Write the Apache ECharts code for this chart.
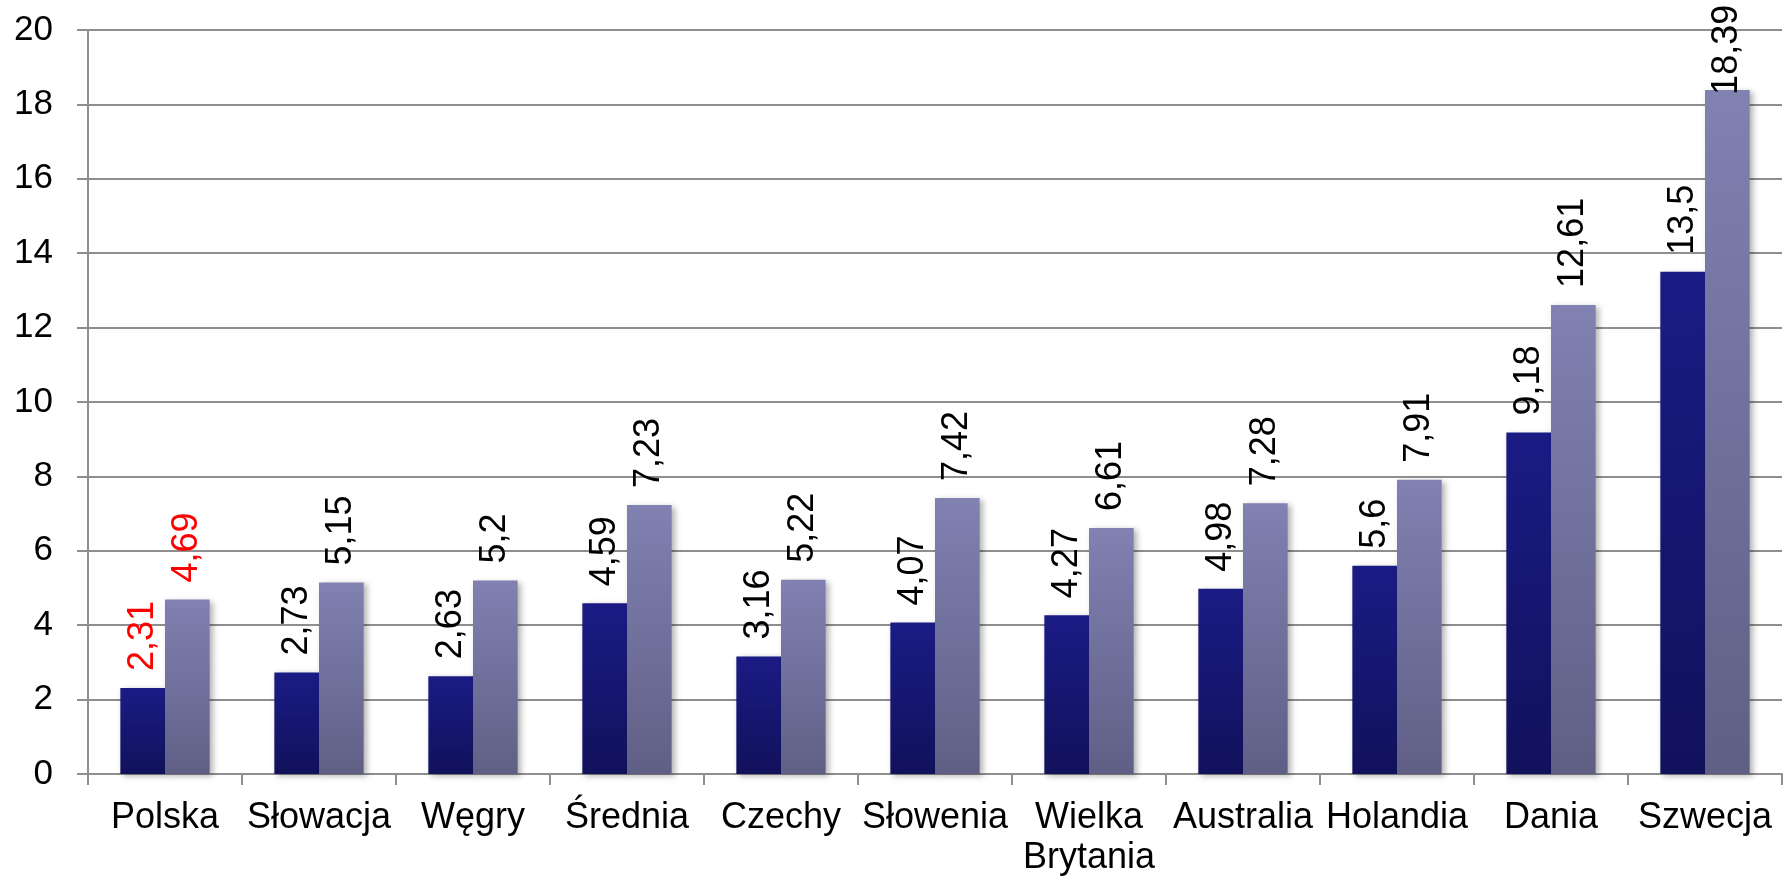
<!DOCTYPE html>
<html>
<head>
  <meta charset="utf-8">
  <script src="https://cdn.jsdelivr.net/npm/echarts@6/dist/echarts.min.js"></script>
  <style>
    html, body { margin: 0; padding: 0; background: #fff; }
    #chart { width: 1787px; height: 879px; }
  </style>
</head>
<body>
  <div id="chart"></div>
  <script>
    const countries = ['Polska', 'Słowacja', 'Węgry', 'Średnia', 'Czechy', 'Słowenia',
      'Wielka\nBrytania', 'Australia', 'Holandia', 'Dania', 'Szwecja']
    const darkValues = [2.31, 2.73, 2.63, 4.59, 3.16, 4.07, 4.27, 4.98, 5.6, 9.18, 13.5]
    const lightValues = [4.69, 5.15, 5.2, 7.23, 5.22, 7.42, 6.61, 7.28, 7.91, 12.61, 18.39]
    const highlighted = ['Polska']

    const font = 'Arial, "Liberation Sans", sans-serif'
    const gridColor = '#8e8e8e'
    const yMax = 20

    function gradient(top, bottom) {
      return {
        type: 'linear',
        x: 0, y: 0, x2: 0, y2: 1,
        colorStops: [
          {offset: 0, color: top},
          {offset: 1, color: bottom}
        ]
      }
    }

    // labels that would run off the top of the chart get pulled down onto the bar, like Excel does
    function buildData(values) {
      return values.map((v, i) => {
        let label = {color: highlighted.includes(countries[i]) ? '#ff0000' : '#000'}
        if (v > yMax - 2) label.distance = -5
        return {value: v, label}
      })
    }

    const valueLabel = {
      show: true,
      position: 'top',
      distance: 17,
      rotate: 90,
      align: 'left',
      verticalAlign: 'middle',
      fontFamily: font,
      fontSize: 36,
      formatter: p => String(p.value).replace('.', ',')
    }

    let chart = echarts.init(document.getElementById('chart'))
    chart.setOption({
      animation: false,
      grid: {left: 88, right: 5, top: 30, bottom: 105},
      xAxis: {
        type: 'category',
        data: countries,
        axisLine: {lineStyle: {color: gridColor, width: 2}},
        axisTick: {show: true, length: 11, lineStyle: {color: gridColor, width: 2}},
        axisLabel: {
          interval: 0,
          margin: 24,
          color: '#000',
          fontFamily: font,
          fontSize: 36,
          lineHeight: 40
        }
      },
      yAxis: {
        type: 'value',
        min: 0,
        max: yMax,
        interval: 2,
        axisLine: {show: true, lineStyle: {color: gridColor, width: 2}},
        axisTick: {show: true, length: 11, lineStyle: {color: gridColor, width: 2}},
        splitLine: {lineStyle: {color: gridColor, width: 2}},
        axisLabel: {
          margin: 35,
          color: '#000',
          fontFamily: font,
          fontSize: 35
        }
      },
      series: [
        {
          type: 'bar',
          data: buildData(darkValues),
          barGap: 0,
          barCategoryGap: '42%',
          itemStyle: {
            color: gradient('#1b1b85', '#11115c'),
            shadowColor: 'rgba(0,0,0,0.3)',
            shadowBlur: 6,
            shadowOffsetX: 3,
            shadowOffsetY: 2
          },
          label: valueLabel
        },
        {
          type: 'bar',
          data: buildData(lightValues),
          itemStyle: {
            color: gradient('#8181b2', '#5f5f86'),
            shadowColor: 'rgba(0,0,0,0.3)',
            shadowBlur: 6,
            shadowOffsetX: 3,
            shadowOffsetY: 2
          },
          label: valueLabel
        }
      ]
    })
  </script>
</body>
</html>
